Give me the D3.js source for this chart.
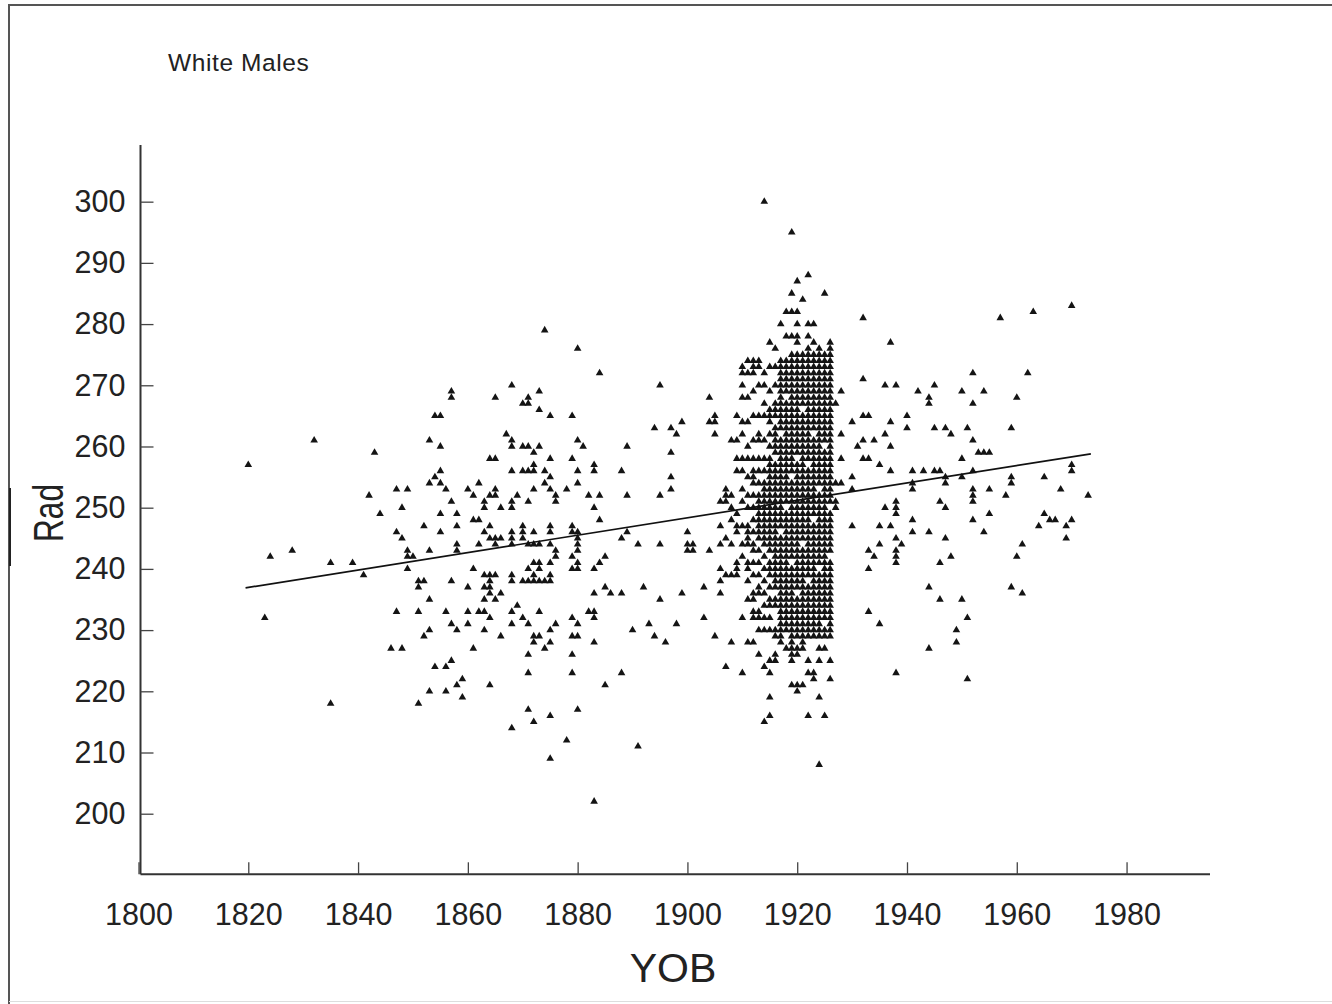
<!DOCTYPE html>
<html>
<head>
<meta charset="utf-8">
<script src="https://cdn.jsdelivr.net/npm/d3@7"></script>
<style>
  body { margin: 0; background: #fff; }
  svg { display: block; }
</style>
</head>
<body>
<div></div>
<script>
const width = 1332, height = 1004

// data: scattered points [YOB, Rad]
const sparse = [
  [1820,257],[1823,232],[1824,242],[1828,243],[1832,261],[1835,241],[1835,218],[1839,241],[1841,239],[1842,252],[1843,259],[1844,249],
  [1846,227],[1847,253],[1847,246],[1847,233],[1848,250],[1848,245],[1848,227],[1849,253],[1849,243],[1849,242],[1849,240],[1850,242],
  [1851,238],[1851,237],[1851,233],[1851,218],[1852,247],[1852,238],[1852,229],[1853,261],[1853,254],[1853,243],[1853,235],[1853,230],[1853,220],
  [1854,265],[1854,255],[1854,224],[1855,265],[1855,260],[1855,256],[1855,254],[1855,249],[1855,246],[1856,253],[1856,233],[1856,224],[1856,220],
  [1857,269],[1857,268],[1857,251],[1857,238],[1857,231],[1857,225],[1858,249],[1858,247],[1858,244],[1858,243],[1858,230],[1858,221],
  [1859,222],[1859,219],[1860,253],[1860,237],[1860,233],[1860,231],[1861,252],[1861,248],[1861,240],[1861,227],[1862,254],[1862,248],[1862,244],[1862,233],
  [1863,251],[1863,250],[1863,246],[1863,239],[1863,237],[1863,235],[1863,233],[1863,230],
  [1864,258],[1864,252],[1864,247],[1864,245],[1864,239],[1864,238],[1864,237],[1864,236],[1864,232],[1864,221],
  [1865,268],[1865,258],[1865,253],[1865,252],[1865,245],[1865,244],[1865,239],[1865,235],
  [1866,250],[1866,245],[1866,236],[1866,229],[1867,262],
  [1868,270],[1868,261],[1868,260],[1868,256],[1868,251],[1868,250],[1868,246],[1868,245],[1868,244],[1868,239],[1868,238],[1868,233],[1868,231],[1868,214],
  [1869,252],[1869,234],
  [1870,267],[1870,260],[1870,256],[1870,247],[1870,246],[1870,245],[1870,238],[1870,232],
  [1871,268],[1871,267],[1871,260],[1871,256],[1871,251],[1871,244],[1871,240],[1871,238],[1871,231],[1871,226],[1871,223],[1871,217],
  [1872,259],[1872,257],[1872,256],[1872,253],[1872,246],[1872,244],[1872,241],[1872,239],[1872,238],[1872,229],[1872,228],[1872,215],
  [1873,269],[1873,266],[1873,260],[1873,244],[1873,241],[1873,240],[1873,238],[1873,233],[1873,229],
  [1874,279],[1874,256],[1874,254],[1874,238],[1874,227],
  [1875,265],[1875,258],[1875,255],[1875,253],[1875,247],[1875,246],[1875,244],[1875,241],[1875,239],[1875,238],[1875,230],[1875,228],[1875,216],[1875,209],
  [1876,252],[1876,251],[1876,243],[1876,242],[1876,231],[1878,253],[1878,212],
  [1879,265],[1879,258],[1879,247],[1879,246],[1879,242],[1879,240],[1879,232],[1879,229],[1879,226],[1879,223],
  [1880,276],[1880,261],[1880,256],[1880,254],[1880,246],[1880,245],[1880,244],[1880,243],[1880,241],[1880,240],[1880,231],[1880,229],[1880,217],
  [1881,260],[1882,252],[1882,233],
  [1883,257],[1883,256],[1883,250],[1883,240],[1883,236],[1883,233],[1883,232],[1883,228],[1883,202],
  [1884,272],[1884,252],[1884,248],[1884,241],[1885,242],[1885,237],[1885,221],[1886,236],
  [1888,256],[1888,245],[1888,236],[1888,223],[1889,260],[1889,252],[1889,246],[1890,230],[1891,244],[1891,211],
  [1892,237],[1893,231],[1894,263],[1894,229],[1895,270],[1895,252],[1895,244],[1895,235],[1896,228],
  [1897,263],[1897,259],[1897,255],[1897,253],[1898,262],[1898,231],[1899,264],[1899,236],
  [1900,246],[1900,244],[1900,243],[1901,244],[1901,243],[1903,237],[1903,232],
  [1904,268],[1904,264],[1904,243],[1905,265],[1905,264],[1905,262],[1905,229],
  [1927,267],[1927,254],[1927,251],[1927,250],[1928,269],[1928,262],[1928,258],[1928,254],
  [1930,264],[1930,255],[1930,253],[1930,247],[1931,260],
  [1932,281],[1932,271],[1932,265],[1932,261],[1932,258],[1933,265],[1933,258],[1933,243],[1933,240],[1933,233],
  [1934,261],[1934,242],[1935,257],[1935,247],[1935,244],[1935,231],[1936,270],[1936,262],[1936,250],
  [1937,277],[1937,264],[1937,260],[1937,256],[1937,247],
  [1938,270],[1938,251],[1938,250],[1938,249],[1938,245],[1938,243],[1938,242],[1938,241],[1938,223],
  [1939,244],[1940,265],[1940,263],[1941,256],[1941,254],[1941,253],[1941,248],[1941,246],[1942,269],[1943,256],
  [1944,268],[1944,267],[1944,246],[1944,237],[1944,227],[1945,270],[1945,263],[1945,256],
  [1946,256],[1946,251],[1946,241],[1946,235],[1947,263],[1947,255],[1947,254],[1947,250],[1947,245],
  [1948,262],[1948,242],[1949,230],[1949,228],[1950,269],[1950,258],[1950,255],[1950,235],
  [1951,263],[1951,232],[1951,222],
  [1952,272],[1952,267],[1952,261],[1952,256],[1952,253],[1952,252],[1952,251],[1952,248],
  [1953,259],[1954,269],[1954,259],[1954,246],[1955,259],[1955,253],[1955,249],[1957,281],[1958,252],
  [1959,263],[1959,255],[1959,254],[1959,237],[1960,268],[1960,242],[1961,244],[1961,236],[1962,272],[1963,282],
  [1964,247],[1965,255],[1965,249],[1966,248],[1967,248],[1968,253],[1969,247],[1969,245],
  [1970,283],[1970,257],[1970,256],[1970,248],[1973,252]
]

// data: crowded years, every Rad value read from each column
const denseColumns = [
  [1906, [251,247,244,240,238,236]],
  [1907, [253,252,251,245,239,224]],
  [1908, [261,252,250,248,244,239,228]],
  [1909, [265,261,258,256,249,247,246,241,240,239]],
  [1910, [273,272,270,268,264,262,258,256,253,251,247,244,242,232,223]],
  [1911, [274,272,268,264,260,258,255,252,250,247,246,245,244,241,240,238,235,228]],
  [1912, [274,273,272,269,265,261,258,256,255,254,252,250,248,246,244,243,241,239,236,235,233,232,228]],
  [1913, [274,273,270,265,262,261,258,256,254,252,251,250,249,248,247,246,245,243,241,239,237,236,233,232,230,226]],
  [1914, [300,272,270,267,265,261,258,256,254,253,252,251,250,249,248,247,246,245,244,242,240,238,236,234,232,230,224,215]],
  [1915, [277,273,269,266,265,264,262,260,258,257,256,255,254,253,252,251,250,249,248,247,246,245,244,243,241,240,239,237,235,234,232,230,225,223,219,216]],
  [1916, [276,273,270,267,266,265,263,262,261,260,259,257,256,255,254,253,252,251,250,249,248,247,246,245,244,243,242,241,240,239,238,237,235,234,230,229,226,225]],
  [1917, [280,274,273,272,271,270,269,268,267,266,265,264,263,261,260,259,258,257,256,255,254,253,252,251,250,249,248,247,245,244,243,242,241,240,239,238,237,236,235,234,233,232,231,230,229,228]],
  [1918, [282,278,274,273,272,271,270,269,267,266,265,264,263,262,261,260,259,258,257,256,255,254,253,252,251,249,248,247,246,245,244,243,242,241,240,239,238,237,236,235,234,233,232,231,230,227]],
  [1919, [295,285,282,278,275,274,273,272,271,270,269,268,267,266,265,264,263,262,261,260,259,258,257,256,254,253,252,251,250,249,248,247,246,245,244,243,242,240,239,238,237,236,235,234,233,232,231,230,229,228,227,226,225,221]],
  [1920, [287,282,280,278,277,275,274,273,272,271,270,269,268,267,266,265,264,263,262,261,260,259,257,256,255,254,253,252,251,250,249,248,247,246,245,244,243,242,241,240,239,238,237,235,234,233,232,231,230,229,227,226,221,220]],
  [1921, [284,275,274,273,272,271,270,269,268,267,265,264,263,262,261,260,259,258,257,256,255,254,253,252,251,250,249,248,247,246,245,243,242,241,240,239,238,237,236,235,234,233,232,231,230,229,228,227,221]],
  [1922, [288,280,278,276,275,274,273,272,271,270,269,268,267,266,265,264,263,262,261,260,259,258,256,255,254,253,252,251,250,249,248,247,246,245,244,243,242,241,240,239,237,236,235,234,233,232,231,230,229,225,223,216]],
  [1923, [280,277,275,274,273,272,271,270,269,268,267,266,265,264,263,261,260,259,258,257,256,255,254,253,252,251,250,249,247,246,245,244,243,242,241,240,239,238,237,236,235,234,233,232,231,230,229,223,222]],
  [1924, [276,275,274,273,272,271,270,269,268,267,266,265,264,263,262,261,260,259,258,257,256,255,254,252,251,250,249,248,247,246,245,244,243,242,241,239,238,237,236,235,234,233,232,231,230,229,227,225,219,208]],
  [1925, [285,275,274,273,272,271,270,269,268,267,266,265,264,263,262,261,259,258,257,256,255,254,253,252,251,250,249,248,247,246,245,244,243,242,241,240,239,238,237,236,235,234,233,232,230,229,227,216]],
  [1926, [277,276,275,274,273,272,271,270,269,268,267,266,265,264,263,262,261,260,259,258,257,256,255,254,253,252,251,249,248,247,246,245,244,243,241,240,239,238,237,236,235,234,233,232,231,230,229,225,222]]
]

// fitted line end points
const fitYOB = [1819.5, 1973.5]
const fitRad = [236.9, 258.8]

const xTicks = [1800, 1820, 1840, 1860, 1880, 1900, 1920, 1940, 1960, 1980]
const yTicks = [200, 210, 220, 230, 240, 250, 260, 270, 280, 290, 300]

const font = "'Liberation Sans', Arial, Helvetica, sans-serif"
const ink = "#222"

const svg = d3.select("div")
  .append("svg")
  .attr("xmlns", "http://www.w3.org/2000/svg")
  .attr("width", width)
  .attr("height", height)

// scales
const x = d3.scaleLinear().domain([1800, 1995.2]).range([138.5, 1210])
const y = d3.scaleLinear().domain([190.1, 309.26]).range([874.3, 145])

// frame
svg.append("path")
  .attr("d", "M9,1004 L9,5 L1332,5")
  .attr("fill", "none")
  .attr("stroke", "#555")
  .attr("stroke-width", 2)
svg.append("path")
  .attr("d", "M9,1001.5 L1332,1001.5")
  .attr("stroke", "#ddd")
  .attr("stroke-width", 1)
svg.append("path")
  .attr("d", "M10,488 L10,566")
  .attr("stroke", "#222")
  .attr("stroke-width", 2)

// title
svg.append("text")
  .attr("x", 168)
  .attr("y", 71)
  .attr("font-family", font)
  .attr("font-size", 24.5)
  .attr("letter-spacing", 0.6)
  .attr("fill", ink)
  .text("White Males")

// axes
const xAxis = d3.axisBottom(x).tickValues(xTicks).tickSize(-12).tickPadding(28).tickFormat(d3.format("d"))
const yAxis = d3.axisLeft(y).tickValues(yTicks).tickSize(-13).tickPadding(28)

const gx = svg.append("g").attr("transform", `translate(0,${y.range()[0]})`).call(xAxis)
const gy = svg.append("g").attr("transform", `translate(${x(1800) + 2},0)`).call(yAxis)

for (const g of [gx, gy]) {
  g.select(".domain").attr("stroke", "#333").attr("stroke-width", 2)
  g.selectAll(".tick line").attr("stroke", "#444").attr("stroke-width", 1.3)
  g.selectAll(".tick text")
    .attr("font-family", font)
    .attr("font-size", 30.5)
    .attr("fill", ink)
}
gx.select(".domain").attr("d", `M${x(1800) + 2},0H1210`)
gy.select(".domain").attr("d", `M0,145V${y.range()[0]}`)
gy.selectAll(".tick text").attr("x", -15)
gx.selectAll(".tick text").attr("dy", "0.73em")

// axis titles
svg.append("text")
  .attr("x", 673)
  .attr("y", 982)
  .attr("text-anchor", "middle")
  .attr("font-family", font)
  .attr("font-size", 41)
  .attr("fill", ink)
  .text("YOB")

svg.append("text")
  .attr("transform", "translate(63,513) rotate(-90)")
  .attr("text-anchor", "middle")
  .attr("font-family", font)
  .attr("font-size", 42)
  .attr("textLength", 58)
  .attr("lengthAdjust", "spacingAndGlyphs")
  .attr("fill", ink)
  .text("Rad")

// points
const points = sparse.concat(denseColumns.flatMap(([yob, rads]) => rads.map(r => [yob, r])))
const tri = d3.symbol().type(d3.symbolTriangle).size(25)

svg.append("g")
  .selectAll("path")
  .data(points)
  .enter()
  .append("path")
  .attr("d", tri)
  .attr("transform", d => `translate(${x(d[0])},${y(d[1])})`)
  .attr("fill", "#141414")

// fitted line
const line = d3.line().x(d => x(d[0])).y(d => y(d[1]))
svg.append("path")
  .attr("d", line(d3.zip(fitYOB, fitRad)))
  .attr("fill", "none")
  .attr("stroke", "#111")
  .attr("stroke-width", 1.7)
</script>
</body>
</html>
